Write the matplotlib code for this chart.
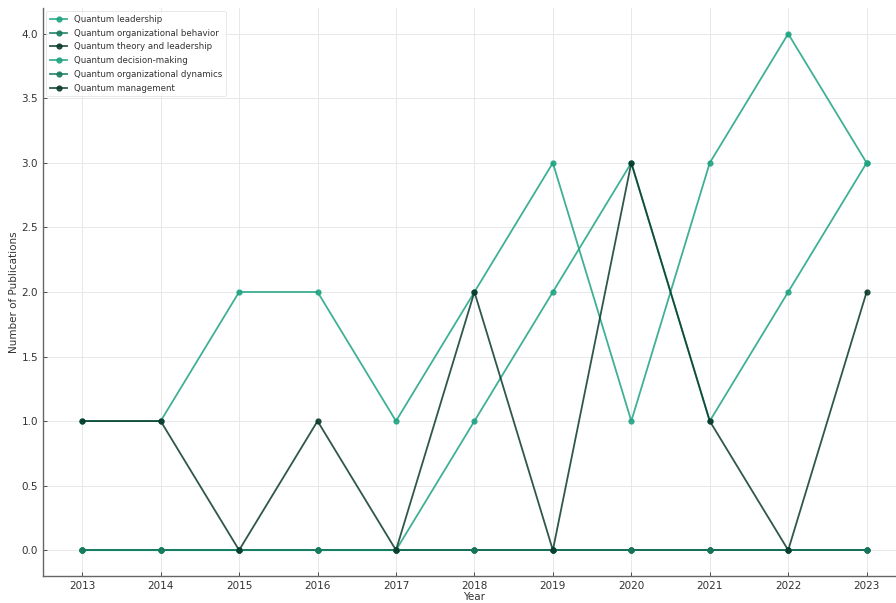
import matplotlib
matplotlib.use("Agg")
import matplotlib.pyplot as plt

years = [2013, 2014, 2015, 2016, 2017, 2018, 2019, 2020, 2021, 2022, 2023]
series_names = [
    "Quantum leadership",
    "Quantum organizational behavior",
    "Quantum theory and leadership",
    "Quantum decision-making",
    "Quantum organizational dynamics",
    "Quantum management",
]
leadership = [1, 1, 2, 2, 1, 2, 3, 1, 3, 4, 3]
org_behavior = [0, 0, 0, 0, 0, 0, 0, 0, 0, 0, 0]
theory_leadership = [0, 0, 0, 0, 0, 0, 0, 0, 0, 0, 0]
decision_making = [0, 0, 0, 0, 0, 1, 2, 3, 1, 2, 3]
org_dynamics = [0, 0, 0, 0, 0, 0, 0, 0, 0, 0, 0]
management = [1, 1, 0, 1, 0, 2, 0, 3, 1, 0, 2]
values = [leadership, org_behavior, theory_leadership, decision_making, org_dynamics, management]
colors = ["#1ea383", "#167a5e", "#0a3a2b", "#1ea383", "#167a5e", "#0a3a2b"]

fig = plt.figure(figsize=(8.96, 6.03), dpi=100)
ax = fig.add_axes([0.048, 0.0448, 0.963, 0.942])

for name, vals, c in zip(series_names, values, colors):
    ax.plot(years, vals, marker="o", markersize=3.5, linewidth=1.3, color=c, alpha=0.85, label=name)

ax.set_xticks(years)
ax.set_xlim(2012.5, 2023.5)
ax.set_ylim(-0.2, 4.2)
ax.set_yticks([0, 0.5, 1.0, 1.5, 2.0, 2.5, 3.0, 3.5, 4.0])
ax.set_yticklabels([f"{v:.1f}" for v in [0, 0.5, 1.0, 1.5, 2.0, 2.5, 3.0, 3.5, 4.0]])
ax.tick_params(direction="in", labelsize=7.5, colors="#333333", length=3, width=0.6)
ax.grid(True, color="#e8e8e8", linewidth=0.7)
ax.set_axisbelow(True)
for s in ["top", "right"]:
    ax.spines[s].set_visible(False)
for s in ["left", "bottom"]:
    ax.spines[s].set_color("#666666")
    ax.spines[s].set_linewidth(1.0)
ax.set_xlabel("Year", fontsize=7.5, color="#333333", labelpad=1)
ax.set_ylabel("Number of Publications", fontsize=7.5, color="#333333", labelpad=1.5)
leg = ax.legend(loc="upper left", fontsize=6.2, frameon=True, borderaxespad=0.4,
                handlelength=2.0, labelspacing=0.55)
leg.get_frame().set_edgecolor("#dddddd")
leg.get_frame().set_linewidth(0.6)
for t in leg.get_texts():
    t.set_color("#333333")

fig.savefig("out.png", dpi=100)
